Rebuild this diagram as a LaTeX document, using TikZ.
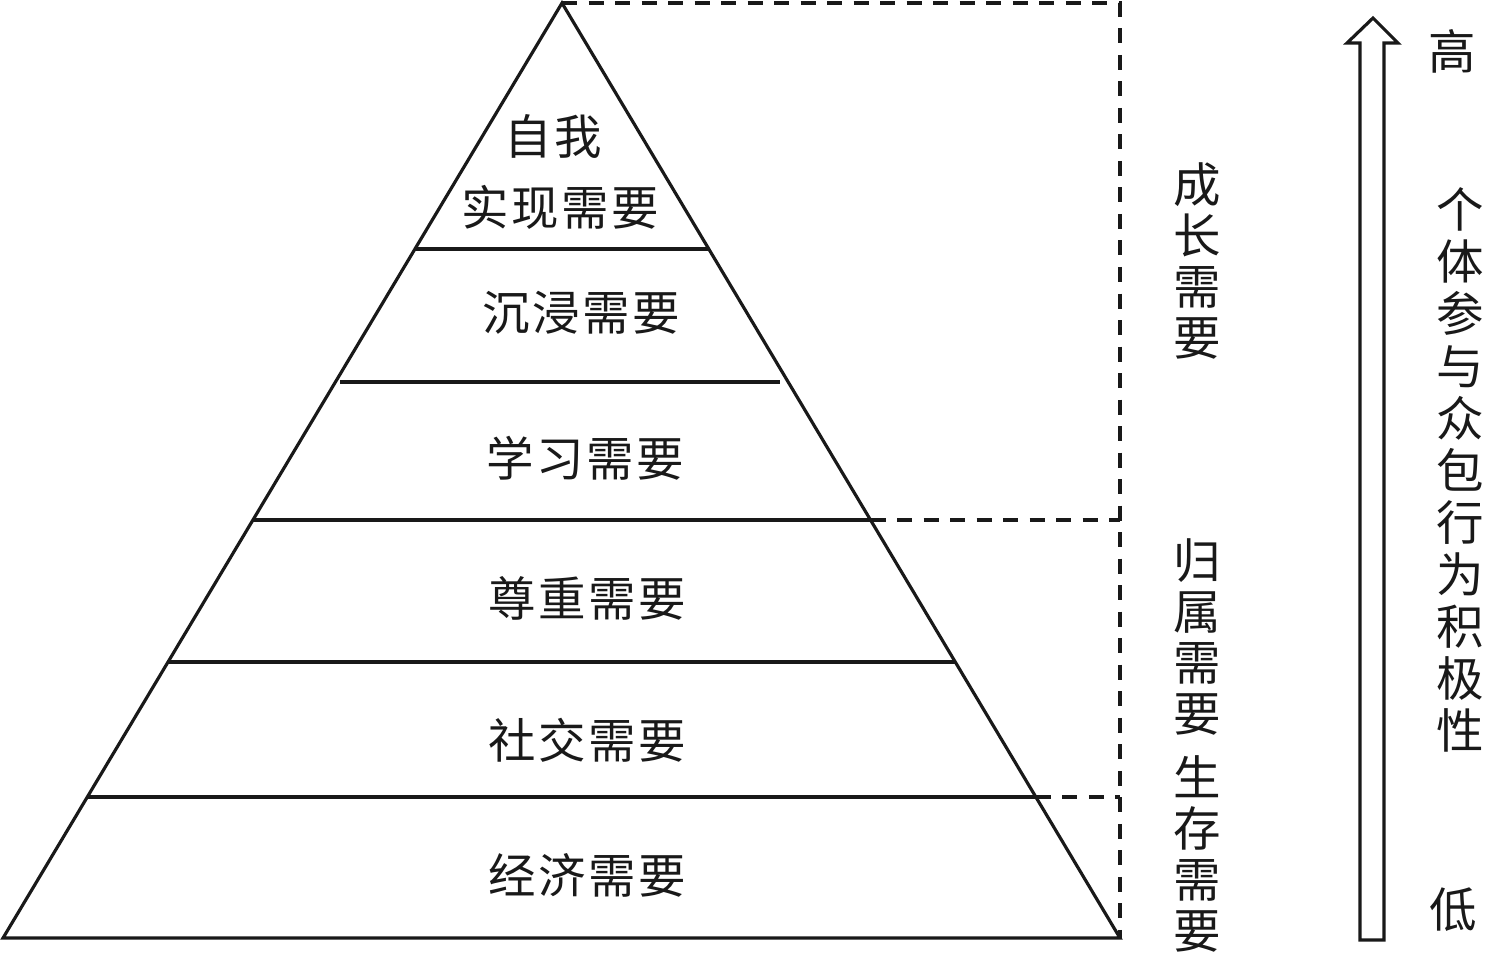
\documentclass[tikz,border=0pt]{standalone}
\usepackage{fontspec}
\newfontfamily\cjk{Noto Sans CJK SC}
\usetikzlibrary{calc}
\newcommand\ls{\hspace{0.75pt}}
\begin{document}
\begin{tikzpicture}[x=0.01cm,y=-0.01cm,
  ln/.style={line width=0.9pt, line join=miter, draw=black!90},
  dsh/.style={line width=0.9pt, draw=black!90, dash pattern=on 0.15cm off 0.115cm},
  lbl/.style={inner sep=0pt, text=black!90, font=\cjk\fontsize{13.5pt}{14.5pt}\selectfont},
  vlbl/.style={lbl, align=center},
  vlblw/.style={inner sep=0pt, text=black!90, align=center, font=\cjk\fontsize{13.5pt}{14.8pt}\selectfont}
]
\useasboundingbox (0,0) rectangle (1488,953);

% pyramid
\coordinate (apex) at (562,3);
\coordinate (bl) at (3,938);
\coordinate (br) at (1120,938);
\coordinate (tr) at (1120,3);
\draw[ln] (apex) -- (bl) -- (br) -- cycle;
\foreach \t/\n in {0.2631/a,0.4053/b,0.5529/c,0.7048/d,0.8492/e}{
  \coordinate (L\n) at ($(apex)!\t!(bl)$);
  \coordinate (R\n) at ($(apex)!\t!(br)$);
}
\draw[ln] (La) -- (Ra);
\draw[ln] ($(Lb)+(5,0)$) -- ($(Rb)+(-8,0)$);
\draw[ln] (Lc) -- (Rc);
\draw[ln] (Ld) -- (Rd);
\draw[ln] (Le) -- (Re);

% dashed brackets
\draw[dsh] (apex) -- (tr) -- (br);
\draw[dsh] (Rc) -- (Rc -| tr);
\draw[dsh] (Re) -- (Re -| tr);

% level labels
\node[lbl] (l1a) at (553,136) {自\ls 我};
\node[lbl] (l1b) at (560,207) {实\ls 现\ls 需\ls 要};
\node[lbl] (l2) at (581,313) {沉\ls 浸\ls 需\ls 要};
\node[lbl] (l3) at (585,458) {学\ls 习\ls 需\ls 要};
\node[lbl] (l4) at (587,598) {尊\ls 重\ls 需\ls 要};
\node[lbl] (l5) at (587,740) {社\ls 交\ls 需\ls 要};
\node[lbl] (l6) at (587,875) {经\ls 济\ls 需\ls 要};

% group labels
\node[vlbl] (g1) at (1197,261) {成\\长\\需\\要};
\node[vlbl] (g2) at (1197,637) {归\\属\\需\\要};
\node[vlbl] (g3) at (1197,854) {生\\存\\需\\要};

% hollow arrow
\coordinate (abot) at (1372,940);
\coordinate (atip) at (1373,18);
\draw[ln] ($(abot)+(-12,0)$) -- (1360,43) -- (1347,43) -- (atip) -- (1398,43) -- (1384,43) -- ($(abot)+(12,0)$) -- cycle;

\node[lbl] (hi) at (1452,51) {高};
\node[lbl] (lo) at (1453,910) {低};
\node[vlblw] (axis) at (1460,470) {个\\体\\参\\与\\众\\包\\行\\为\\积\\极\\性};
\end{tikzpicture}
\end{document}
